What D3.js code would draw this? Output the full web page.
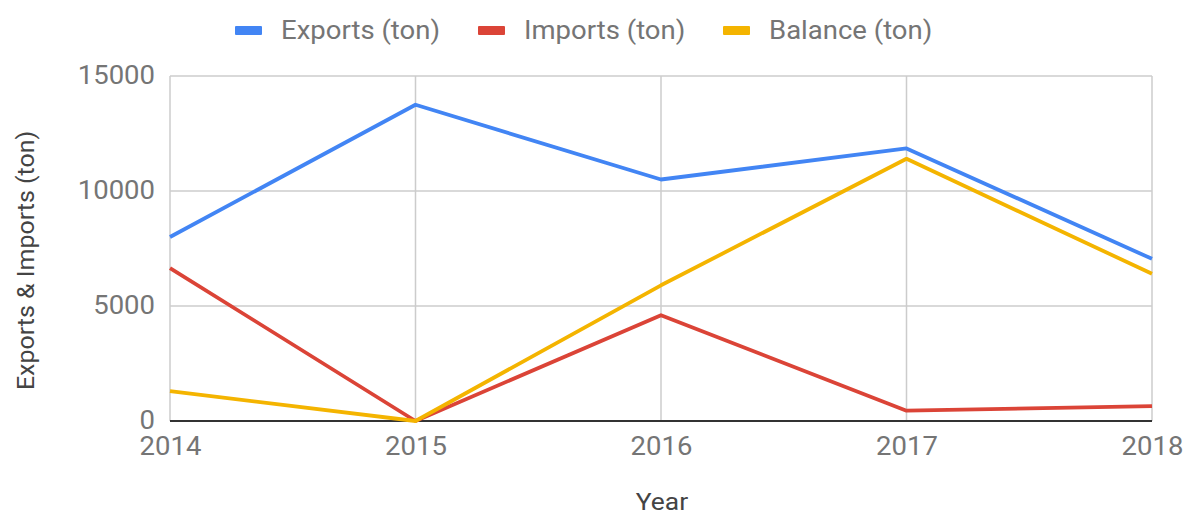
<!DOCTYPE html>
<html>
<head>
<meta charset="utf-8">
<script src="https://cdn.jsdelivr.net/npm/d3@7"></script>
<style>
  html, body { margin: 0; padding: 0; background: #fff; }
  svg { display: block; font-family: Roboto, "Noto Sans", sans-serif; }
</style>
</head>
<body>
<svg id="chart" width="1183" height="518"></svg>
<script>
// Yearly trade volumes in tons
const years = [2014, 2015, 2016, 2017, 2018];
const exportsTon = [8000, 13750, 10500, 11850, 7050];
const importsTon = [6650, 0, 4600, 450, 650];
const balanceTon = [1300, 0, 5900, 11400, 6400];
const yTicks = [0, 5000, 10000, 15000];

const seriesNames = ["Exports (ton)", "Imports (ton)", "Balance (ton)"];
const seriesColors = ["#4285F4", "#DB4437", "#F4B400"];
const seriesValues = [exportsTon, importsTon, balanceTon];

const svg = d3.select("#chart");
const margin = { left: 170, right: 31, top: 76, bottom: 97 };
const W = 1183, H = 518;

// the labels use a slightly widened letterform
const widen = (sel, k = 1.1) => sel.each(function () {
  const len = this.getComputedTextLength();
  d3.select(this).attr("textLength", len * k).attr("lengthAdjust", "spacingAndGlyphs");
});

const x = d3.scalePoint().domain(years).range([margin.left, W - margin.right]);
const y = d3.scaleLinear().domain([0, 15000]).range([H - margin.bottom, margin.top]);

// horizontal gridlines
svg.append("g")
  .selectAll("line")
  .data(yTicks.filter(d => d > 0))
  .join("line")
  .attr("x1", margin.left).attr("x2", W - margin.right)
  .attr("y1", d => y(d)).attr("y2", d => y(d))
  .attr("stroke", "#cccccc").attr("stroke-width", 1.5);

// vertical gridlines
svg.append("g")
  .selectAll("line")
  .data(years)
  .join("line")
  .attr("x1", d => x(d)).attr("x2", d => x(d))
  .attr("y1", y(15000)).attr("y2", y(0))
  .attr("stroke", "#cccccc").attr("stroke-width", 1.5);

// y axis labels
const yAxis = svg.append("g")
  .attr("transform", `translate(${margin.left},0)`)
  .call(d3.axisLeft(y).tickValues(yTicks).tickSize(0).tickPadding(15).tickFormat(d3.format("d")));
yAxis.select(".domain").remove();
yAxis.selectAll("text")
  .attr("fill", "#757575").attr("font-size", 25)
  .attr("font-family", "Roboto, sans-serif")
  .attr("dy", "0.28em")
  .call(widen);

// x axis labels
const xAxis = svg.append("g")
  .attr("transform", `translate(0,${y(0)})`)
  .call(d3.axisBottom(x).tickSize(0).tickPadding(16).tickFormat(d3.format("d")));
xAxis.select(".domain").remove();
xAxis.selectAll("text")
  .attr("fill", "#757575").attr("font-size", 25)
  .attr("font-family", "Roboto, sans-serif")
  .call(widen);

// baseline
svg.append("line")
  .attr("x1", margin.left).attr("x2", W - margin.right)
  .attr("y1", y(0)).attr("y2", y(0))
  .attr("stroke", "#333333").attr("stroke-width", 2);

// series lines
const line = d3.line()
  .x((d, i) => x(years[i]))
  .y(d => y(d));

svg.append("g")
  .selectAll("path")
  .data(seriesValues)
  .join("path")
  .attr("d", d => line(d))
  .attr("fill", "none")
  .attr("stroke", (d, i) => seriesColors[i])
  .attr("stroke-width", 3.8)
  .attr("stroke-linejoin", "round");

// axis titles
svg.append("text")
  .attr("x", 662)
  .attr("y", 510)
  .attr("text-anchor", "middle")
  .attr("fill", "#444444").attr("font-size", 24)
  .text("Year")
  .call(widen);

svg.append("text")
  .attr("transform", `translate(34,${(y(0) + y(15000)) / 2 + 12}) rotate(-90)`)
  .attr("text-anchor", "middle")
  .attr("fill", "#444444").attr("font-size", 24)
  .text("Exports & Imports (ton)")
  .call(widen, 1.04);

// legend
const legendX = [235, 478, 723];
const legend = svg.append("g");
seriesNames.forEach((name, i) => {
  legend.append("rect")
    .attr("x", legendX[i]).attr("y", 26)
    .attr("width", 27).attr("height", 9)
    .attr("rx", 1)
    .attr("fill", seriesColors[i]);
  legend.append("text")
    .attr("x", legendX[i] + 46).attr("y", 39)
    .attr("fill", "#757575").attr("font-size", 25)
    .text(name)
    .call(widen);
});
</script>
</body>
</html>
